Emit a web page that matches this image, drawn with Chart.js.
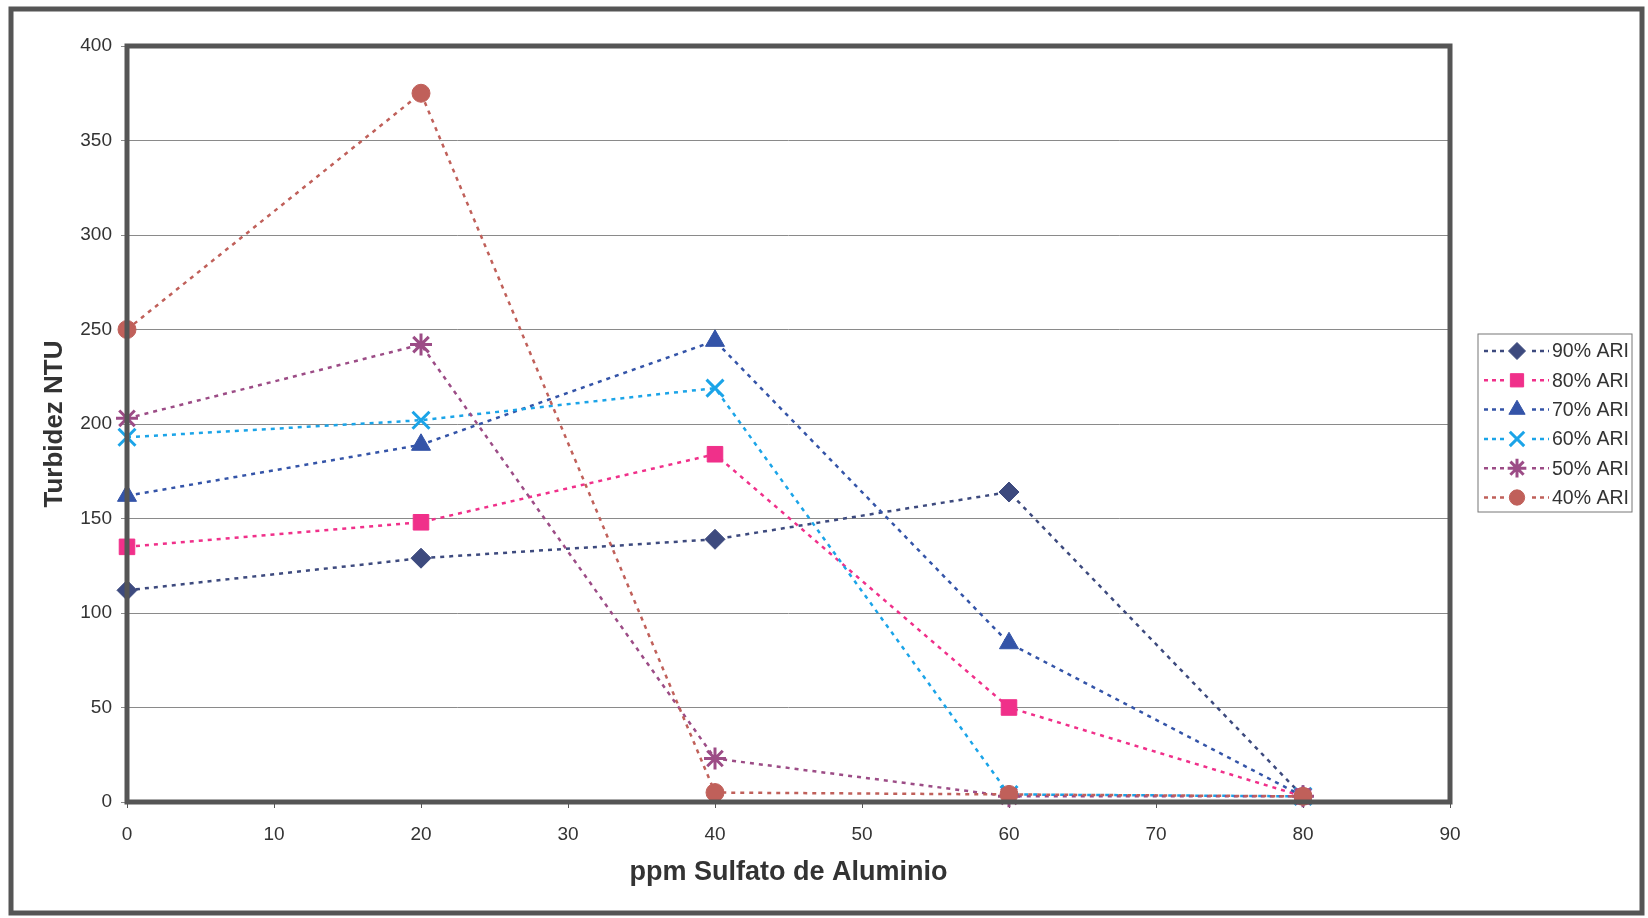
<!DOCTYPE html>
<html>
<head>
<meta charset="utf-8">
<script src="https://cdn.jsdelivr.net/npm/chart.js@4/dist/chart.umd.min.js"></script>
<style>
  html, body { margin: 0; padding: 0; background: #fff; }
  #wrap { position: relative; width: 1648px; height: 918px; }
</style>
</head>
<body>
<div id="wrap"><canvas id="turbChart" width="1648" height="918"></canvas></div>
<script>
// Data
var doses = [0, 20, 40, 60, 80];
var labels = ['90% ARI', '80% ARI', '70% ARI', '60% ARI', '50% ARI', '40% ARI'];
var ari90 = [112, 129, 139, 164, 3];
var ari80 = [135, 148, 184, 50, 3];
var ari70 = [162, 189, 244, 84, 3];
var ari60 = [193, 202, 219, 4, 3];
var ari50 = [203, 242, 23, 3, 3];
var ari40 = [250, 375, 5, 4, 3];
var yTicks = [0, 50, 100, 150, 200, 250, 300, 350, 400];

var colors = ['#3d4a7e', '#f0308a', '#3454a8', '#1ba4e8', '#9c4c86', '#c0605a'];
var shapes = ['rectRot', 'rect', 'triangle', 'crossRot', 'star', 'circle'];
var radii = [10, 11, 11, 12, 11, 9];
var series = [ari90, ari80, ari70, ari60, ari50, ari40];

function toPoints(vals) {
  return doses.map((d, i) => ({ x: d, y: vals[i] }));
}

// later series are drawn on top, like the original
var datasets = series.map((vals, i) => ({
  label: labels[i],
  data: toPoints(vals),
  order: series.length - i,
  borderColor: colors[i],
  backgroundColor: colors[i],
  pointBackgroundColor: colors[i],
  pointBorderColor: colors[i],
  pointStyle: shapes[i],
  pointRadius: radii[i],
  pointBorderWidth: (shapes[i] == 'crossRot' || shapes[i] == 'star') ? 3 : 1,
  borderWidth: 2.5,
  borderDash: [4, 5],
  fill: false,
  clip: false,
  tension: 0
}));

// outer frame, plot frame and legend
var framePlugin = {
  id: 'framePlugin',
  afterDraw(chart) {
    const ctx = chart.ctx;
    const a = chart.chartArea;
    ctx.save();
    ctx.strokeStyle = '#555';
    ctx.lineWidth = 5;
    ctx.strokeRect(11, 9, 1631, 904);
    ctx.lineWidth = 5;
    ctx.strokeRect(a.left, a.top, a.right - a.left, a.bottom - a.top);

    // legend box
    const lx = 1478, ly = 334, lw = 154, lh = 178;
    ctx.lineWidth = 1;
    ctx.strokeStyle = '#777';
    ctx.fillStyle = '#fff';
    ctx.fillRect(lx, ly, lw, lh);
    ctx.strokeRect(lx, ly, lw, lh);
    ctx.font = '19.5px "Liberation Sans", Arial, sans-serif';
    ctx.textBaseline = 'middle';
    chart.data.datasets.forEach((ds, i) => {
      const y = ly + 17 + i * 29.3;
      ctx.strokeStyle = ds.borderColor;
      ctx.lineWidth = 2.5;
      ctx.setLineDash([4, 4]);
      ctx.beginPath();
      ctx.moveTo(lx + 6, y);
      ctx.lineTo(lx + 71, y);
      ctx.stroke();
      ctx.setLineDash([]);
      ctx.fillStyle = '#fff';
      ctx.fillRect(lx + 28, y - 11, 22, 22);
      ctx.fillStyle = ds.backgroundColor;
      ctx.strokeStyle = ds.borderColor;
      ctx.lineWidth = ds.pointBorderWidth;
      Chart.helpers.drawPoint(ctx, { pointStyle: ds.pointStyle, radius: ds.pointRadius * 0.85, rotation: 0, borderWidth: ds.pointBorderWidth }, lx + 39, y);
      ctx.fillStyle = '#333';
      ctx.fillText(ds.label, lx + 74, y + 1);
    });
    ctx.restore();
  }
};

var ctx = document.getElementById('turbChart').getContext('2d');
new Chart(ctx, {
  type: 'line',
  data: { datasets: datasets },
  plugins: [framePlugin],
  options: {
    responsive: false,
    animation: false,
    layout: { padding: { top: 46, right: 198, left: 0, bottom: 0 } },
    plugins: {
      legend: { display: false },
      tooltip: { enabled: false }
    },
    scales: {
      x: {
        type: 'linear',
        min: 0,
        max: 90,
        ticks: {
          stepSize: 10,
          color: '#333',
          padding: 15,
          font: { family: '"Liberation Sans", Arial, sans-serif', size: 19 }
        },
        grid: { drawOnChartArea: false, tickLength: 6, color: '#555', lineWidth: 1 },
        border: { display: false },
        title: {
          display: true,
          text: 'ppm Sulfato de Aluminio',
          color: '#333',
          font: { family: '"Liberation Sans", Arial, sans-serif', size: 27, weight: 'bold' },
          padding: { top: 0, bottom: 29 }
        },
        afterFit(scale) { scale.height = 116; }
      },
      y: {
        min: 0,
        max: 400,
        afterBuildTicks(scale) { scale.ticks = yTicks.map(v => ({ value: v })); },
        ticks: {
          color: '#333',
          padding: 9,
          font: { family: '"Liberation Sans", Arial, sans-serif', size: 19 }
        },
        grid: { color: '#8a8a8a', lineWidth: 1, tickLength: 6 },
        border: { display: false },
        title: {
          display: true,
          text: 'Turbidez NTU',
          color: '#333',
          font: { family: '"Liberation Sans", Arial, sans-serif', size: 26, weight: 'bold' },
          padding: { top: 39, bottom: 0 }
        },
        afterFit(scale) { scale.width = 127; }
      }
    }
  }
});
</script>
</body>
</html>
